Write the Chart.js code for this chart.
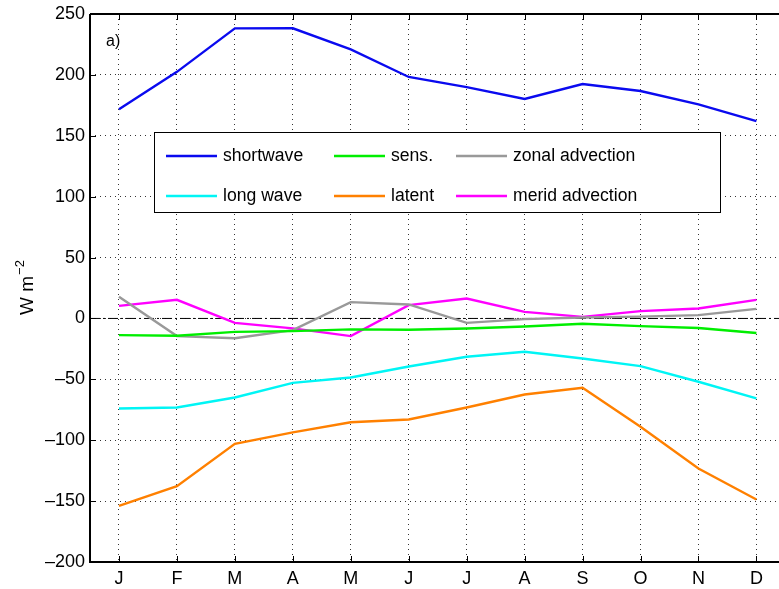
<!DOCTYPE html>
<html>
<head>
<meta charset="utf-8">
<script src="https://cdn.jsdelivr.net/npm/chart.js@4"></script>
<style>
  html, body { margin: 0; padding: 0; background: #fff; overflow: hidden; }
  #wrap { width: 779px; height: 589px; }
</style>
</head>
<body>
<div id="wrap"><canvas id="c" width="779" height="589"></canvas></div>
<script>
// months and series (W m^-2)
const months = ['J', 'F', 'M', 'A', 'M', 'J', 'J', 'A', 'S', 'O', 'N', 'D'];
const shortwave = [171.7, 202.5, 238.2, 238.3, 221, 198.3, 190, 180.2, 192.5, 186.8, 175.8, 162.1];
const longwave  = [-73.9, -73.1, -64.9, -52.9, -48.5, -39.5, -31.5, -27.4, -32.9, -39.2, -52, -65.7];
const sens      = [-13.7, -14.2, -11, -10.4, -9, -9.3, -8.2, -6.6, -4.4, -6.3, -7.9, -12];
const latent    = [-153.9, -137.7, -103, -93.6, -85.2, -83, -73.1, -62.5, -57, -89, -123.2, -148.7];
const zonalAdv  = [17.8, -14.5, -16.2, -9.6, 13.4, 11.5, -3.6, -0.6, 0.8, 1.5, 2.7, 7.9];
const meridAdv  = [10.3, 15.3, -3.6, -8.2, -14.5, 10.9, 16.4, 5.4, 1.3, 6, 8.2, 15.3];
const yTicks = [-200, -150, -100, -50, 0, 50, 100, 150, 200, 250];

const FONT = '"Liberation Sans", Arial, Helvetica, sans-serif';

const toXY = arr => arr.map((v, i) => ({ x: i + 1, y: v }));

// legend layout (2 rows x 3 columns as in the figure)
const legendItems = [
  { label: 'shortwave', color: '#0a0aef', row: 0, col: 0 },
  { label: 'sens.', color: '#00ee00', row: 0, col: 1 },
  { label: 'zonal advection', color: '#999999', row: 0, col: 2 },
  { label: 'long wave', color: '#00f5f5', row: 1, col: 0 },
  { label: 'latent', color: '#ff8000', row: 1, col: 1 },
  { label: 'merid advection', color: '#ff00ff', row: 1, col: 2 }
];

const seriesList = [
  { data: shortwave, color: '#0a0aef' },
  { data: sens, color: '#00ee00' },
  { data: zonalAdv, color: '#999999' },
  { data: longwave, color: '#00f5f5' },
  { data: latent, color: '#ff8000' },
  { data: meridAdv, color: '#ff00ff' }
];

const datasets = [{
  // zero reference line
  data: [{ x: 0.5, y: 0 }, { x: 12.5, y: 0 }],
  borderColor: '#000',
  borderWidth: 1,
  borderDash: [10, 3, 2, 3],
  pointRadius: 0,
  order: 10
}];
seriesList.forEach(s => datasets.push({
  data: toXY(s.data),
  borderColor: s.color,
  borderWidth: 2.4,
  pointRadius: 0,
  tension: 0,
  order: 1
}));

// frame, inward ticks, legend box, panel label, y title
const decor = {
  id: 'decor',
  afterDatasetsDraw(chart) {
    const { ctx, chartArea: a, scales } = chart;
    ctx.save();
    // inward tick marks
    ctx.strokeStyle = '#000';
    ctx.lineWidth = 1;
    ctx.beginPath();
    months.forEach((m, i) => {
      const x = Math.round(scales.x.getPixelForValue(i + 1)) + 0.5;
      ctx.moveTo(x, a.bottom); ctx.lineTo(x, a.bottom - 6);
      ctx.moveTo(x, a.top); ctx.lineTo(x, a.top + 6);
    });
    yTicks.forEach(v => {
      const y = Math.round(scales.y.getPixelForValue(v)) + 0.5;
      ctx.moveTo(a.left, y); ctx.lineTo(a.left + 6, y);
    });
    ctx.stroke();
    // axes box (left, bottom, top)
    ctx.lineWidth = 2;
    ctx.beginPath();
    ctx.moveTo(a.left, a.top); ctx.lineTo(a.left, a.bottom);
    ctx.lineTo(a.right, a.bottom);
    ctx.moveTo(a.left, a.top); ctx.lineTo(a.right, a.top);
    ctx.stroke();

    // legend box
    const bx = 154.5, by = 132.5, bw = 566, bh = 80;
    ctx.fillStyle = '#fff';
    ctx.fillRect(bx, by, bw, bh);
    ctx.lineWidth = 1;
    ctx.strokeStyle = '#000';
    ctx.strokeRect(bx, by, bw, bh);
    const colX = [166, 334, 456];
    const rowY = [156, 196];
    ctx.font = '17.6px ' + FONT;
    ctx.textBaseline = 'middle';
    ctx.textAlign = 'left';
    legendItems.forEach(it => {
      const x = colX[it.col], y = rowY[it.row];
      ctx.strokeStyle = it.color;
      ctx.lineWidth = 2.4;
      ctx.beginPath();
      ctx.moveTo(x, y); ctx.lineTo(x + 51, y);
      ctx.stroke();
      ctx.fillStyle = '#000';
      ctx.fillText(it.label, x + 57, y);
    });

    // panel label
    ctx.font = '16px ' + FONT;
    ctx.fillText('a)', 106, 42);

    // y axis title with superscript
    ctx.translate(33, 288);
    ctx.rotate(-Math.PI / 2);
    ctx.font = '19px ' + FONT;
    ctx.textAlign = 'left';
    ctx.textBaseline = 'alphabetic';
    const base = 'W m';
    const w = ctx.measureText(base).width;
    ctx.font = '13px ' + FONT;
    const sw = ctx.measureText('\u22122').width;
    const start = -(w + sw) / 2;
    ctx.font = '19px ' + FONT;
    ctx.fillText(base, start, 0);
    ctx.font = '13px ' + FONT;
    ctx.fillText('\u22122', start + w + 1, -9);
    ctx.restore();
  }
};

new Chart(document.getElementById('c'), {
  type: 'line',
  data: { datasets },
  options: {
    responsive: false,
    animation: false,
    events: [],
    layout: { padding: { top: 14, left: 0, right: 0, bottom: 0 } },
    plugins: { legend: { display: false }, tooltip: { enabled: false } },
    scales: {
      x: {
        type: 'linear',
        min: 0.5,
        max: 12.39,
        afterBuildTicks: s => { s.ticks = months.map((m, i) => ({ value: i + 1 })); },
        afterFit: s => { s.height = 27; s.paddingLeft = 0; s.paddingRight = 0; },
        ticks: {
          callback: (v) => months[v - 1],
          color: '#000',
          font: { family: FONT, size: 18 },
          padding: 6,
          maxRotation: 0,
          autoSkip: false
        },
        grid: { color: '#333', lineWidth: 1, tickLength: 0, drawTicks: false },
        border: { display: false, dash: [1, 4] }
      },
      y: {
        min: -200,
        max: 250,
        afterBuildTicks: s => { s.ticks = yTicks.map(v => ({ value: v })); },
        afterFit: s => { s.width = 90; s.paddingTop = 0; s.paddingBottom = 0; },
        ticks: {
          callback: v => String(v).replace('-', '\u2013'),
          color: '#000',
          font: { family: FONT, size: 18 },
          padding: 5
        },
        grid: { color: '#333', lineWidth: 1, tickLength: 0, drawTicks: false },
        border: { display: false, dash: [1, 4] }
      }
    }
  },
  plugins: [decor]
});
</script>
</body>
</html>
